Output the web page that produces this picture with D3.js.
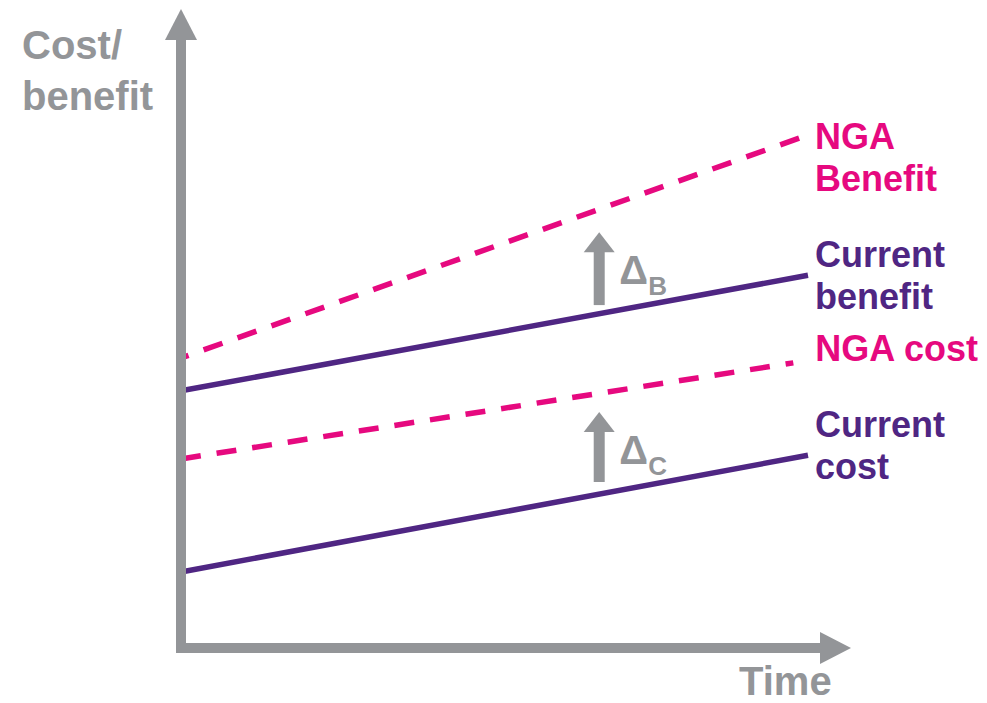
<!DOCTYPE html>
<html lang="en">
<head>
    <meta charset="UTF-8">
    <title>Cost / benefit over time</title>
    <script src="https://cdnjs.cloudflare.com/ajax/libs/d3/7.8.5/d3.min.js"></script>
    <style>
        body { margin: 0; background: #fff; }
        text { font-family: 'Liberation Sans', Arial, sans-serif; font-weight: bold; }
    </style>
</head>
<body>
    <div id="svgBox"></div>
    <script>
        // DATA (time 0..100, value 0..100, arbitrary units)
        var seriesNames = ['Current cost', 'NGA cost', 'Current benefit', 'NGA Benefit'];
        var seriesDashed = [false, true, false, true];
        var startTimes = [0, 0, 0, 0];
        var endTimes = [94, 91.8, 94, 92.8];
        var startValues = [12.5, 31.1, 42.3, 47.7];
        var endValues = [31.7, 46.9, 61.3, 83.9];
        var seriesLabels = [['Current', 'cost'], ['NGA cost'], ['Current', 'benefit'], ['NGA', 'Benefit']];

        var deltaNames = ['C', 'B'];
        var deltaTimes = [62.7, 62.7];
        var deltaFrom = [27.3, 56.4];
        var deltaTo = [38.8, 68.4];

        var yLabel = ['Cost/', 'benefit'],
            xLabel = 'Time';

        var w = 987,
            h = 703,
            grey = '#939598',
            purple = '#4f2683',
            pink = '#e6097f',
            // label placement relative to line end (px)
            labelDx = [7, 22, 7, 15],
            labelDy = [-18, -2, -8, 11],
            svg = d3.select('#svgBox')
                        .append('svg')
                        .attr('width', w)
                        .attr('height', h);

        var xScale = d3.scaleLinear().domain([0, 100]).range([181, 848]);
        var yScale = d3.scaleLinear().domain([0, 100]).range([648, 40]);

        // LINES
        var line = d3.line().x((d) => xScale(d[0])).y((d) => yScale(d[1]));
        seriesNames.forEach((name, i) => {
            svg.append('path')
                .datum([[startTimes[i], startValues[i]], [endTimes[i], endValues[i]]])
                .attr('d', line)
                .attr('fill', 'none')
                .attr('stroke', seriesDashed[i] ? pink : purple)
                .attr('stroke-width', 5.5)
                .attr('stroke-dasharray', seriesDashed[i] ? '20,16' : null)
                .attr('stroke-dashoffset', seriesDashed[i] ? (i === 1 ? 0 : 12) : null);

            // labels at the end of each line
            var lx = xScale(endTimes[i]) + labelDx[i];
            svg.append('text')
                .attr('x', lx)
                .attr('y', yScale(endValues[i]) + labelDy[i])
                .attr('fill', seriesDashed[i] ? pink : purple)
                .style('font-size', '36px')
                .selectAll('tspan')
                .data(seriesLabels[i])
                .enter()
                .append('tspan')
                .attr('x', lx)
                .attr('dy', (d, k) => (k === 0 ? 0 : 42))
                .text((d) => d);
        });

        // AXES (arrows)
        var x0 = xScale(0), y0 = yScale(0);
        svg.append('line')
            .attr('x1', x0).attr('y1', y0 + 5)
            .attr('x2', x0).attr('y2', 38)
            .attr('stroke', grey).attr('stroke-width', 10);
        svg.append('path')
            .attr('d', 'M' + (x0 - 16) + ',40 L' + x0 + ',9 L' + (x0 + 16) + ',40 Z')
            .attr('fill', grey);
        svg.append('line')
            .attr('x1', x0 - 5).attr('y1', y0)
            .attr('x2', 822).attr('y2', y0)
            .attr('stroke', grey).attr('stroke-width', 10);
        svg.append('path')
            .attr('d', 'M820,' + (y0 - 16) + ' L851,' + y0 + ' L820,' + (y0 + 16) + ' Z')
            .attr('fill', grey);

        svg.append('text')
            .attr('x', 22).attr('y', 59)
            .attr('fill', grey)
            .style('font-size', '40px')
            .selectAll('tspan')
            .data(yLabel)
            .enter()
            .append('tspan')
            .attr('x', 22)
            .attr('dy', (d, k) => (k === 0 ? 0 : 51))
            .text((d) => d);
        svg.append('text')
            .attr('x', 739).attr('y', 695)
            .attr('fill', grey)
            .style('font-size', '40px')
            .text(xLabel);

        // DELTA ARROWS
        deltaNames.forEach((n, i) => {
            var ax = xScale(deltaTimes[i]),
                yb = yScale(deltaFrom[i]),
                yt = yScale(deltaTo[i]);
            svg.append('line')
                .attr('x1', ax).attr('y1', yb)
                .attr('x2', ax).attr('y2', yt + 18)
                .attr('stroke', grey).attr('stroke-width', 11);
            svg.append('path')
                .attr('d', 'M' + (ax - 15.5) + ',' + (yt + 20) + ' L' + ax + ',' + yt + ' L' + (ax + 15.5) + ',' + (yt + 20) + ' Z')
                .attr('fill', grey);
            svg.append('text')
                .attr('x', ax + 20).attr('y', yt + 52)
                .attr('fill', grey)
                .style('font-size', '40px')
                .text('\u0394');
            svg.append('text')
                .attr('x', ax + 49).attr('y', yt + 63)
                .attr('fill', grey)
                .style('font-size', '26px')
                .text(n);
        });
    </script>
</body>
</html>
